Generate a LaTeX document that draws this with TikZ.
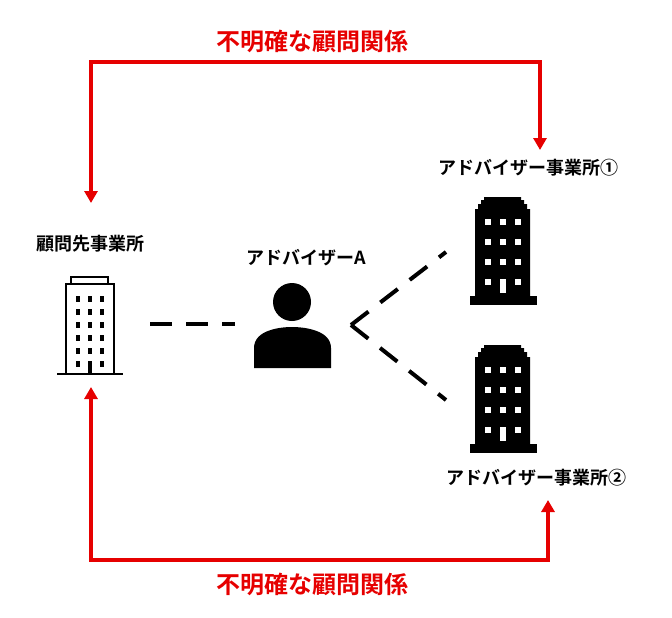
\documentclass[tikz,border=0pt]{standalone}
\usepackage{fontspec}
\newfontfamily\jp{Noto Sans CJK JP Bold}
\usetikzlibrary{arrows.meta}
\definecolor{rd}{RGB}{230,0,0}
\tikzset{
  lbl/.style={font=\jp\fontsize{18}{20}\selectfont, inner sep=0},
  rlbl/.style={font=\jp\fontsize{24}{26}\selectfont, text=rd, inner sep=0},
  rline/.style={draw=rd, line width=3.2pt, {Triangle[length=12pt,width=13pt]}-{Triangle[length=12pt,width=13pt]}},
  dline/.style={line width=4pt, dash pattern=on 22pt off 14pt},
}
\begin{document}
\begin{tikzpicture}[x=1pt,y=-1pt]
\useasboundingbox (0,0) rectangle (672,618);
% texts
\node[rlbl] (t1) at (312,41) {不明確な顧問関係};
\node[rlbl] (t2) at (312,584) {不明確な顧問関係};
\node[lbl] (lA) at (90,244) {顧問先事業所};
\node[lbl] (lP) at (306,258) {アドバイザーA};
\node[lbl] (l1) at (528,168) {アドバイザー事業所①};
\node[lbl] (l2) at (536,478) {アドバイザー事業所②};
% left building (outline)
\draw[line width=1.6pt] (71,284) rectangle (108,277);
\draw[line width=1.6pt] (66,374) -- (66,284) -- (114,284) -- (114,374);
\draw[line width=1.6pt] (57,374) -- (123,374);
\foreach \c in {77.5,90,102}{\foreach \r in {0,...,5}{
  \fill (\c-2,296+\r*13) rectangle (\c+2,302+\r*13);}}
\fill (88,364) rectangle (92,374);
% person
\fill (292,302) circle (19);
\fill (254,368) -- (254,348) .. controls (254,330) and (280,327) .. (292,327) .. controls (304,327) and (331,330) .. (331,348) -- (331,368) -- cycle;
% right buildings
\foreach \y in {197,345}{
  \begin{scope}[shift={(0,\y)}]
  \fill (470,99) rectangle (537,108);
  \fill (475,99) -- (475,12) -- (478,12) -- (478,7) -- (481,7) -- (481,3) -- (484,3) -- (484,0) -- (521,0) -- (521,3) -- (524,3) -- (524,7) -- (527,7) -- (527,12) -- (530,12) -- (530,99) -- cycle;
  \foreach \c in {488,503,518}{\foreach \r in {0,1,2}{
    \fill[white] (\c-3,22+\r*20) rectangle (\c+3,28+\r*20);}}
  \fill[white] (485,82) rectangle (491,88);
  \fill[white] (515,82) rectangle (521,88);
  \fill[white] (500,82) rectangle (506,96);
  \end{scope}}
% dashed connectors
\coordinate (d0) at (150,324);
\coordinate (d1) at (235,324);
\coordinate (c) at (351,325);
\coordinate (e1) at (446,252);
\coordinate (e2) at (446,400);
\draw[dline] (d0) -- (d1);
\draw[line width=4pt, dash pattern=on 22pt off 15pt] (c) -- (e1);
\draw[line width=4pt, dash pattern=on 22pt off 15pt] (c) -- (e2);
% red connectors
\draw[rline] (91,203) -- (91,62) -- (540,62) -- (540,150);
\draw[rline] (91,387) -- (91,560) -- (548,560) -- (548,500);
\end{tikzpicture}
\end{document}
